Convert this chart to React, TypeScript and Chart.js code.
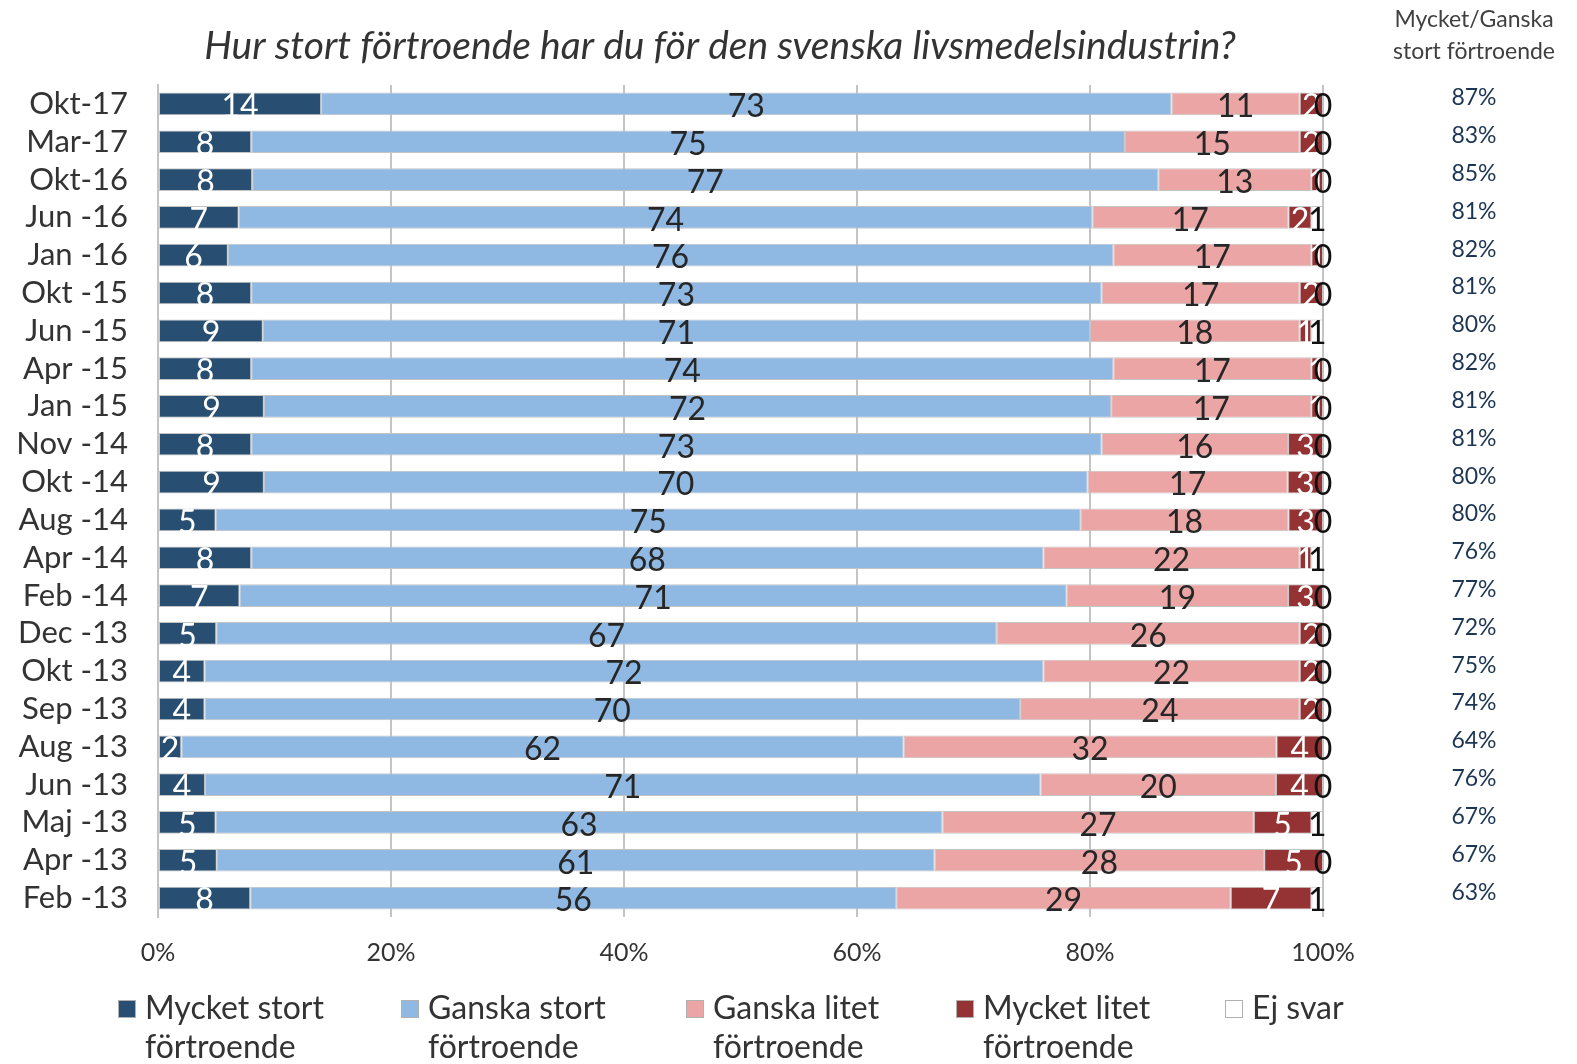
import React, { useEffect, useRef } from 'react';
import { Chart, registerables } from 'chart.js';

Chart.register(...registerables);

const categories = [
  'Okt-17', 'Mar-17', 'Okt-16', 'Jun -16', 'Jan -16', 'Okt -15', 'Jun -15', 'Apr -15',
  'Jan -15', 'Nov -14', 'Okt -14', 'Aug -14', 'Apr -14', 'Feb -14', 'Dec -13', 'Okt -13',
  'Sep -13', 'Aug -13', 'Jun -13', 'Maj -13', 'Apr -13', 'Feb -13',
];
const mycketStort = [14, 8, 8, 7, 6, 8, 9, 8, 9, 8, 9, 5, 8, 7, 5, 4, 4, 2, 4, 5, 5, 8];
const ganskaStort = [73, 75, 77, 74, 76, 73, 71, 74, 72, 73, 70, 75, 68, 71, 67, 72, 70, 62, 71, 63, 61, 56];
const ganskaLitet = [11, 15, 13, 17, 17, 17, 18, 17, 17, 16, 17, 18, 22, 19, 26, 22, 24, 32, 20, 27, 28, 29];
const mycketLitet = [2, 2, 1, 2, 1, 2, 1, 1, 1, 3, 3, 3, 1, 3, 2, 2, 2, 4, 4, 5, 5, 7];
const ejSvar = [0, 0, 0, 1, 0, 0, 1, 0, 0, 0, 0, 0, 1, 0, 0, 0, 0, 0, 0, 1, 0, 1];
const stortTotal = ['87%', '83%', '85%', '81%', '82%', '81%', '80%', '82%', '81%', '81%', '80%', '80%', '76%', '77%', '72%', '75%', '74%', '64%', '76%', '67%', '67%', '63%'];

const seriesNames = ['Mycket stort förtroende', 'Ganska stort förtroende', 'Ganska litet förtroende', 'Mycket litet förtroende', 'Ej svar'];
const legendLines = [['Mycket stort', 'förtroende'], ['Ganska stort', 'förtroende'], ['Ganska litet', 'förtroende'], ['Mycket litet', 'förtroende'], ['Ej svar']];
const xTickLabels = ['0%', '20%', '40%', '60%', '80%', '100%'];
const titleText = 'Hur stort förtroende har du för den svenska livsmedelsindustrin?';
const sideHeader = ['Mycket/Ganska', 'stort förtroende'];

const seriesValues = [mycketStort, ganskaStort, ganskaLitet, mycketLitet, ejSvar];
const seriesColors = ['#284e72', '#8fb9e3', '#eba5a4', '#953234', '#ffffff'];
const labelColors = ['#ffffff', '#262626', '#262626', '#ffffff', '#111111'];

const FONT = 'Lato, "DejaVu Sans", sans-serif';

export default function App() {
  const ref = useRef<HTMLCanvasElement>(null);

  useEffect(() => {
    const canvas = ref.current;
    if (!canvas) return;

    const totals = categories.map((_, i) => seriesValues.reduce((s, arr) => s + arr[i], 0));

    const overlay = {
      id: 'overlay',
      afterDatasetsDraw(chart: any) {
        const ctx = chart.ctx;
        ctx.save();
        ctx.textAlign = 'center';
        ctx.textBaseline = 'middle';
        ctx.font = `32px ${FONT}`;
        seriesValues.forEach((vals, di) => {
          const meta = chart.getDatasetMeta(di);
          meta.data.forEach((bar: any, i: number) => {
            const cx = (bar.x + bar.base) / 2;
            ctx.fillStyle = labelColors[di];
            ctx.fillText(String(vals[i]), cx, bar.y + 3);
          });
        });
        ctx.restore();
      },
      afterDraw(chart: any) {
        const ctx = chart.ctx;
        const yScale = chart.scales.y;
        ctx.save();
        // title
        ctx.fillStyle = '#333333';
        ctx.font = `italic 39px ${FONT}`;
        ctx.textAlign = 'center';
        ctx.textBaseline = 'middle';
        ctx.fillText(titleText, 720, 46);
        // side header
        ctx.font = `23px ${FONT}`;
        ctx.fillStyle = '#404040';
        ctx.fillText(sideHeader[0], 1474, 20);
        ctx.fillText(sideHeader[1], 1474, 52);
        // side values
        ctx.font = `23px ${FONT}`;
        ctx.fillStyle = '#1c3553';
        stortTotal.forEach((t, i) => {
          const y = yScale.getPixelForValue(i);
          ctx.fillText(t, 1474, y - 6);
        });
        // legend
        const xs = [118, 401, 686, 956, 1225];
        ctx.textAlign = 'left';
        ctx.font = `32px ${FONT}`;
        legendLines.forEach((lines, i) => {
          const x = xs[i];
          ctx.fillStyle = seriesColors[i];
          ctx.fillRect(x, 1000, 18, 18);
          ctx.strokeStyle = '#b0b0b0';
          ctx.lineWidth = 1;
          ctx.strokeRect(x + 0.5, 1000.5, 17, 17);
          ctx.fillStyle = '#333333';
          lines.forEach((l, li) => ctx.fillText(l, x + 27, 1009 + li * 39));
        });
        ctx.restore();
      },
    };

    const chart = new Chart(canvas, {
      type: 'bar',
      data: {
        labels: categories,
        datasets: seriesValues.map((vals, di) => ({
          label: seriesNames[di],
          data: vals.map((v, i) => (v / totals[i]) * 100),
          backgroundColor: seriesColors[di],
          borderColor: '#c4c4c4',
          borderWidth: 1,
          borderSkipped: false,
          barPercentage: 0.6,
          categoryPercentage: 1,
        })),
      },
      options: {
        indexAxis: 'y',
        responsive: false,
        animation: false,
        layout: { padding: { top: 85, right: 254, bottom: 87, left: 0 } },
        plugins: {
          legend: { display: false },
          title: { display: false },
          tooltip: { enabled: false },
        },
        scales: {
          x: {
            stacked: true,
            min: 0,
            max: 100,
            afterFit: (s: any) => { s.height = 60; },
            grid: { color: '#c4c4c4', lineWidth: 2, drawTicks: false },
            border: { display: false },
            ticks: {
              stepSize: 20,
              padding: 21,
              color: '#333333',
              font: { family: FONT, size: 25 },
              callback: (_v: any, idx: number) => xTickLabels[idx],
            },
          },
          y: {
            stacked: true,
            afterFit: (s: any) => { s.width = 158; },
            grid: { display: false },
            border: { display: true, color: '#c4c4c4', width: 2 },
            ticks: {
              autoSkip: false,
              padding: 22,
              color: '#333333',
              font: { family: FONT, size: 31 },
            },
          },
        },
      },
      plugins: [overlay],
    });

    return () => chart.destroy();
  }, []);

  return (
    <div style={{ position: 'absolute', left: 0, top: 0, width: 1577, height: 1064, background: '#ffffff' }}>
      <canvas ref={ref} width={1577} height={1064} />
    </div>
  );
}
